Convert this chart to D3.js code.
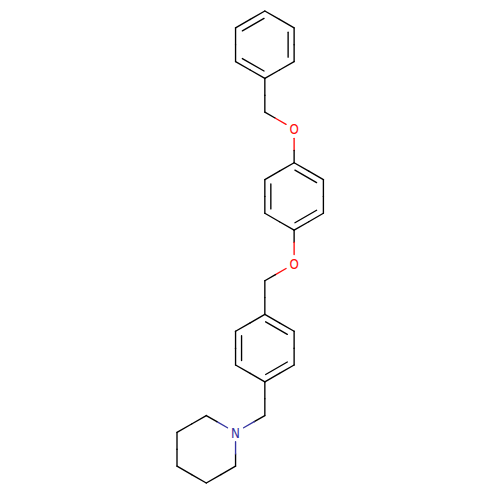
<!DOCTYPE html>
<html>
<head>
<meta charset="utf-8">
<script src="https://cdnjs.cloudflare.com/ajax/libs/d3/7.8.5/d3.min.js"></script>
<style>
	html, body { margin: 0; padding: 0; background: #fff; }
	svg { display: block; }
</style>
</head>
<body>
<div id="chart"></div>
<script>
const WIDTH = 500,
	  HEIGHT = 500;

// atoms on the hexagonal lattice of the drawing (column, row)
const atomCols = [3, 4, 4, 3, 2, 2, 3, 4, 4, 5, 5, 4, 3, 3, 4, 3, 3, 4, 4, 3, 2, 2, 3, 2, 1, 0, 0, 1, 2];
const atomRows = [0, 1, 3, 4, 3, 1, 6, 7, 9, 10, 12, 13, 12, 10, 15, 16, 18, 19, 21, 22, 21, 19, 24, 25, 24, 25, 27, 28, 27];
const atomLabels = {7: "O", 14: "O", 23: "N"};
const labelColors = {O: "#ff0d0d", N: "#3434a0"};

const bondFrom = [0, 1, 2, 3, 4, 5, 3, 6, 7, 8, 9, 10, 11, 12, 13, 11, 14, 15, 16, 17, 18, 19, 20, 21, 19, 22, 23, 24, 25, 26, 27, 28];
const bondTo = [1, 2, 3, 4, 5, 0, 6, 7, 8, 9, 10, 11, 12, 13, 8, 14, 15, 16, 17, 18, 19, 20, 21, 16, 22, 23, 24, 25, 26, 27, 28, 23];
const bondOrder = [1, 2, 1, 2, 1, 2, 1, 1, 1, 2, 1, 2, 1, 2, 1, 1, 1, 1, 2, 1, 2, 1, 2, 1, 1, 1, 1, 1, 1, 1, 1, 1];

// first atom of each benzene ring, the ring is the next six atoms
const ringStarts = [0, 8, 16];

const x = d3.scaleLinear().domain([0, 5]).range([177, 323.4]),
	  y = d3.scaleLinear().domain([0, 28]).range([11, 483]);

const LABEL_GAP = 9.3,
	  DOUBLE_OFFSET = 6,
	  DOUBLE_TRIM = 0.13;

const svg = d3.select("#chart").append("svg")
		.attr("width", WIDTH)
		.attr("height", HEIGHT);

const atoms = atomCols.map((c, i) => ({x: x(c), y: y(atomRows[i]), label: atomLabels[i] || ""}));

// ring the atom belongs to, null if not in a benzene ring
function ringCentre(i) {
	let start = ringStarts.find(s => i >= s && i < s + 6);
	if (start === undefined) {
		return null;
	}
	let ring = atoms.slice(start, start + 6);
	return [d3.mean(ring, d => d.x), d3.mean(ring, d => d.y)];
}

// add line svg element
function addLine(x1, y1, x2, y2, color) {
	svg.append("line")
		.attr("x1", x1)
		.attr("y1", y1)
		.attr("x2", x2)
		.attr("y2", y2)
		.attr("stroke", color)
		.attr("stroke-width", 1.35)
		.attr("stroke-linecap", "round");
}

bondFrom.forEach((from, i) => {
	let a = atoms[from],
		b = atoms[bondTo[i]],
		len = Math.hypot(b.x - a.x, b.y - a.y),
		ux = (b.x - a.x) / len,
		uy = (b.y - a.y) / len;

	// pull back from labels and split what is left in two colours
	let startX = a.label ? a.x + ux * LABEL_GAP : a.x,
		startY = a.label ? a.y + uy * LABEL_GAP : a.y,
		endX = b.label ? b.x - ux * LABEL_GAP : b.x,
		endY = b.label ? b.y - uy * LABEL_GAP : b.y,
		midX = (startX + endX) / 2,
		midY = (startY + endY) / 2;

	addLine(startX, startY, midX, midY, a.label ? labelColors[a.label] : "#000");
	addLine(midX, midY, endX, endY, b.label ? labelColors[b.label] : "#000");

	if (bondOrder[i] == 2) {
		let centre = ringCentre(from),
			nx = -uy,
			ny = ux;

		// inner line goes towards the ring centre
		if ((centre[0] - midX) * nx + (centre[1] - midY) * ny < 0) {
			nx = -nx;
			ny = -ny;
		}

		addLine(a.x + ux * len * DOUBLE_TRIM + nx * DOUBLE_OFFSET, a.y + uy * len * DOUBLE_TRIM + ny * DOUBLE_OFFSET,
				b.x - ux * len * DOUBLE_TRIM + nx * DOUBLE_OFFSET, b.y - uy * len * DOUBLE_TRIM + ny * DOUBLE_OFFSET, "#000");
	}
});

// letters in the picture are narrower than the font, squeeze them a bit
svg.selectAll("text.atom")
	.data(atoms.filter(d => d.label))
	.enter().append("text")
		.attr("class", "atom")
		.attr("transform", d => "translate(" + d.x + "," + (d.y + 0.5) + ") scale(0.88,1)")
		.attr("text-anchor", "middle")
		.attr("dy", "0.36em")
		.style("font-family", "'DejaVu Sans', sans-serif")
		.style("font-size", "13.5px")
		.style("fill", d => labelColors[d.label])
		.text(d => d.label);
</script>
</body>
</html>
